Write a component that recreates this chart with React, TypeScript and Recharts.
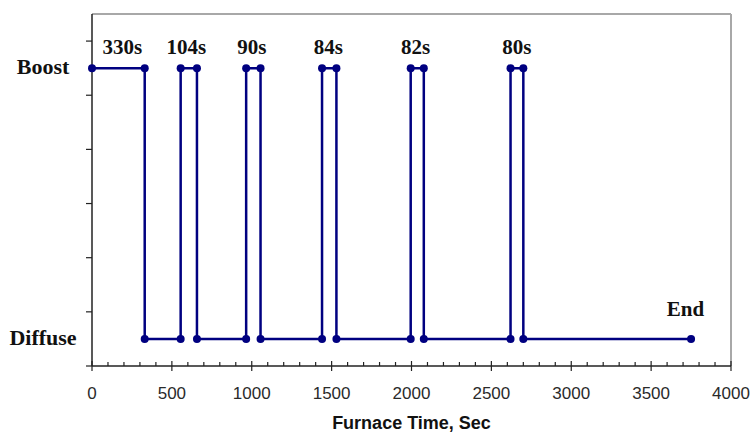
import React from 'react';
import { ComposedChart, Line, Scatter, XAxis, YAxis, ReferenceLine, Label } from 'recharts';

// Boost intervals [start, end] in seconds
const boostStarts = [0, 555, 965, 1440, 1995, 2620];
const boostEnds = [330, 657, 1055, 1530, 2077, 2700];
const endTime = 3750;

// Duration labels above each boost pulse
const pulseLabels = ['330s', '104s', '90s', '84s', '82s', '80s'];
const pulseLabelX = [190, 590, 1000, 1480, 2025, 2660];
const endLabel = 'End';
const endLabelX = 3715;

const BOOST = 1;
const DIFFUSE = 0;

const yTicks = [-0.1, 0, 0.1, 0.3, 0.5, 0.7, 0.9, 1, 1.1];
const yLabels: Record<string, string> = { '0': 'Diffuse', '1': 'Boost' };

const stepData: { x: number; y: number }[] = [];
boostStarts.forEach((s, i) => {
  if (i > 0) stepData.push({ x: s, y: DIFFUSE });
  stepData.push({ x: s, y: BOOST });
  stepData.push({ x: boostEnds[i], y: BOOST });
  stepData.push({ x: boostEnds[i], y: DIFFUSE });
});
stepData.push({ x: endTime, y: DIFFUSE });

const annotations = [
  ...pulseLabels.map((t, i) => ({ x: pulseLabelX[i], y: BOOST, text: t, kind: 'pulse' })),
  { x: endLabelX, y: DIFFUSE, text: endLabel, kind: 'end' },
];

const xAllTicks: number[] = [];
for (let v = 0; v <= 4000; v += 100) xAllTicks.push(v);

const NAVY = '#000080';

const XTick = (props: any) => {
  const { x, y, payload } = props;
  const major = payload.value % 500 === 0;
  return (
    <g>
      {major ? (
        <line x1={x} x2={x} y1={y - 5} y2={y + 5} stroke="#222" strokeWidth={1.2} />
      ) : (
        <line x1={x} x2={x} y1={y - 4} y2={y} stroke="#222" strokeWidth={1.2} />
      )}
      {major && (
        <text x={x} y={y + 33} textAnchor="middle" fontFamily="'Liberation Sans', Arial, sans-serif" fontSize={17} fill="#2a2a2a">
          {payload.value}
        </text>
      )}
    </g>
  );
};

const YTick = (props: any) => {
  const { x, y, payload } = props;
  const lbl = yLabels[String(payload.value)];
  if (lbl) {
    return (
      <text x={x - 49} y={y + 6} textAnchor="middle" fontFamily="'Liberation Serif', 'Times New Roman', serif" fontWeight="bold" fontSize={22} fill="#111">
        {lbl}
      </text>
    );
  }
  return <line x1={x - 6} x2={x} y1={y} y2={y} stroke="#222" strokeWidth={1.2} />;
};

const AnnotationShape = (props: any) => {
  const { cx, cy, payload } = props;
  const dy = payload.kind === 'end' ? -23 : -14;
  return (
    <text x={cx} y={cy + dy} textAnchor="middle" fontFamily="'Liberation Serif', 'Times New Roman', serif" fontWeight="bold" fontSize={21} fill="#111">
      {payload.text}
    </text>
  );
};

export default function App() {
  return (
    <div style={{ position: 'absolute', left: 0, top: 0, background: '#fff' }}>
      <ComposedChart width={753} height={432} data={stepData} margin={{ top: 14, right: 22, bottom: 0, left: 0 }}>
        <XAxis
          dataKey="x"
          type="number"
          domain={[0, 4000]}
          ticks={xAllTicks}
          interval={0}
          tickLine={false}
          tickSize={0}
          tickMargin={0}
          height={66}
          axisLine={{ stroke: '#222', strokeWidth: 1.5 }}
          tick={<XTick />}
        >
          <Label
            content={(p: any) => {
              const vb = p.viewBox;
              return (
                <text x={vb.x + vb.width / 2} y={vb.y + 63} textAnchor="middle" fontFamily="'Liberation Sans', Arial, sans-serif" fontWeight="bold" fontSize={18} fill="#111">
                  Furnace Time, Sec
                </text>
              );
            }}
          />
        </XAxis>
        <YAxis
          type="number"
          domain={[-0.1, 1.2]}
          ticks={yTicks}
          interval={0}
          width={92}
          tickLine={false}
          tickSize={0}
          tickMargin={0}
          axisLine={{ stroke: '#222', strokeWidth: 1.5 }}
          tick={<YTick />}
        />
        <ReferenceLine y={1.2} stroke="#a8a8a8" strokeWidth={2} />
        <ReferenceLine x={4000} stroke="#a8a8a8" strokeWidth={2} />
        <Line
          dataKey="y"
          type="linear"
          stroke={NAVY}
          strokeWidth={2.5}
          dot={{ r: 4, fill: NAVY, stroke: NAVY, strokeWidth: 0 }}
          isAnimationActive={false}
        />
        <Scatter data={annotations} dataKey="y" shape={<AnnotationShape />} isAnimationActive={false} />
      </ComposedChart>
    </div>
  );
}
